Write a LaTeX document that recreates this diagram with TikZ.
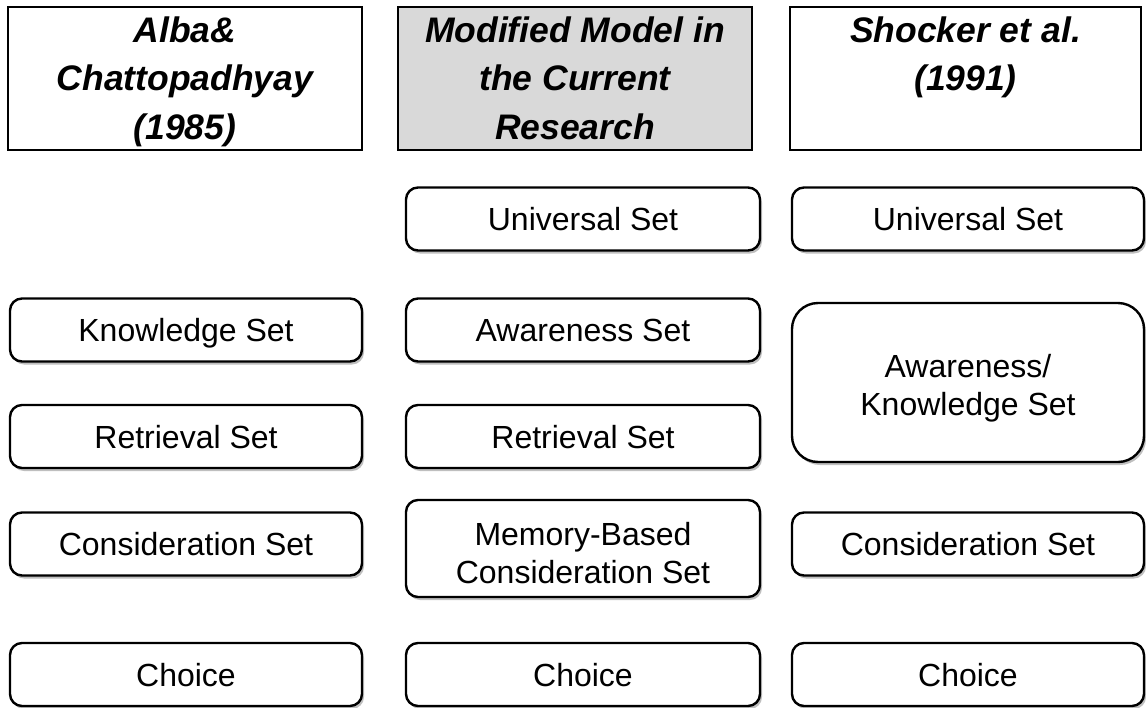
\documentclass[tikz,border=0pt]{standalone}
\usepackage{fontspec}
\setmainfont{Liberation Sans}
\usetikzlibrary{shadows}
\begin{document}
\begin{tikzpicture}[x=1pt,y=-1pt,
  hdr/.style={draw=black, line width=1.3pt, inner sep=0pt, minimum width=354pt, minimum height=143pt},
  hdrtext/.style={inner sep=0pt, align=center, anchor=north,
    font=\fontsize{35.5}{48.5}\selectfont\bfseries\itshape},
  setbox/.style={draw=black, line width=2.4pt, rounded corners=12pt, fill=white, inner sep=0pt,
    align=center, font=\fontsize{32}{38}\selectfont, minimum width=352pt, minimum height=63pt,
    drop shadow={shadow xshift=2pt, shadow yshift=-3pt, fill=black, opacity=0.25}},
  onebox/.style={setbox, text height=23pt, text depth=0pt},
  bigbox/.style={setbox, rounded corners=26pt},
  boxtext/.style={inner sep=0pt, align=center, font=\fontsize{32}{38.5}\selectfont}
]
\useasboundingbox (0,0) rectangle (1146,707);
\fill[white] (0,0) rectangle (1146,707);
% headers
\node[hdr] (h1) at (185,78.5) {};
\node[hdr, fill={rgb,255:red,217;green,217;blue,217}] (h2) at (575,78.5) {};
\node[hdr, minimum width=351pt] (h3) at (965.5,78.5) {};
\node[hdrtext] (t1) at (185,16.5) {Alba\&\\Chattopadhyay\\(1985)};
\node[hdrtext] (t2) at (575,16.5) {Modified Model in\\the Current\\Research};
\node[hdrtext] (t3) at (965.5,16.5) {Shocker et al.\\(1991)};
% column 1
\node[onebox] (k1) at (186,330) {Knowledge Set};
\node[onebox] (r1) at (186,436.5) {Retrieval Set};
\node[onebox] (c1) at (186,544) {Consideration Set};
\node[onebox] (ch1) at (186,674.5) {Choice};
% column 2
\node[onebox, minimum width=354pt] (u2) at (583,219) {Universal Set};
\node[onebox, minimum width=354pt] (a2) at (583,330) {Awareness Set};
\node[onebox, minimum width=354pt] (r2) at (583,436.5) {Retrieval Set};
\node[setbox, minimum width=354pt, minimum height=97pt] (c2) at (583,548.5) {};
\node[boxtext] (c2t) at (583,553) {Memory-Based\\Consideration Set};
\node[onebox, minimum width=354pt] (ch2) at (583,674.5) {Choice};
% column 3
\node[onebox] (u3) at (968,219) {Universal Set};
\node[bigbox, minimum height=159pt] (a3) at (968,382.5) {};
\node[boxtext] (a3t) at (968,388) {Awareness/\\Knowledge Set};
\node[onebox] (c3) at (968,544) {Consideration Set};
\node[onebox] (ch3) at (968,674.5) {Choice};
\end{tikzpicture}
\end{document}
